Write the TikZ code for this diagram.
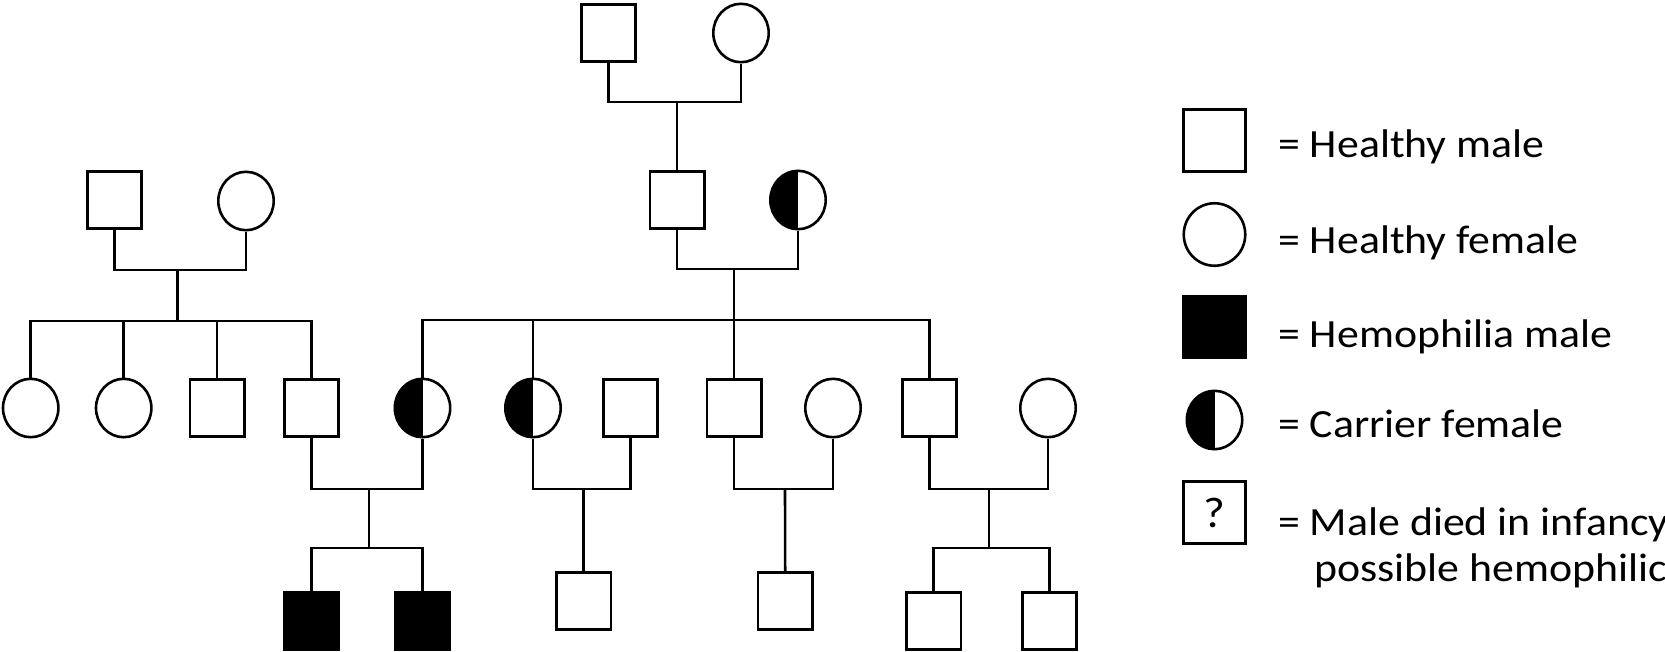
\documentclass[tikz,border=0pt]{standalone}
\usepackage{fontspec}
\setmainfont[FakeStretch=1.095]{Carlito}
\usetikzlibrary{shapes.geometric}
\begin{document}
\begin{tikzpicture}[x=1pt,y=-1pt,
  lw/.style={line width=2.6pt},
  male/.style={draw, lw, rectangle, minimum width=54.4pt, minimum height=57.4pt, inner sep=0pt, fill=white},
  female/.style={draw, lw, ellipse, minimum width=55.4pt, minimum height=58.4pt, inner sep=0pt, fill=white},
  affected/.style={male, fill=black},
  carrier/.style={female, path picture={\fill[black] (path picture bounding box.south west) rectangle (path picture bounding box.north);}},
  lmale/.style={male, minimum width=62pt, minimum height=62pt},
  lfemale/.style={female, minimum width=61.5pt, minimum height=62.5pt},
  link/.style={lw},
  lab/.style={anchor=base west, inner sep=0pt, font=\fontsize{40}{48}\selectfont}
]
\useasboundingbox (0,0) rectangle (1665,651);

% Generation I
\node[male] (gm1) at (608.5,33) {};
\node[female] (gf1) at (741,33) {};
\coordinate (c1) at (677,102);

% Generation II
\node[male] (lm) at (114.5,200) {};
\node[female] (lf) at (246,201) {};
\coordinate (c2) at (177.5,270);
\coordinate (s2) at (177.5,321);

\node[male] (rm) at (677,200) {};
\node[carrier] (rf) at (798,200) {};
\coordinate (c3) at (734,269);
\coordinate (s3) at (734,320);

% Generation III
\node[female] (a1) at (30.7,408) {};
\node[female] (a2) at (123.7,408) {};
\node[male] (a3) at (217,408) {};
\node[male] (a4) at (311.5,408) {};

\node[carrier] (b1) at (422.5,408) {};
\node[carrier] (b2) at (533,408) {};
\node[male] (b3) at (734,408) {};
\node[male] (b4) at (929.5,408) {};

\node[male] (p2) at (630.5,408) {};
\node[female] (p3) at (833,408) {};
\node[female] (p4) at (1048,408) {};

\coordinate (d1) at (369,489);
\coordinate (e1) at (369,548);
\coordinate (d2) at (583.6,489);
\coordinate (d3) at (785,489);
\coordinate (d4) at (989,489);
\coordinate (e4) at (989,548);

% Generation IV
\node[affected] (g1) at (311.5,620.5) {};
\node[affected] (g2) at (422.5,620.5) {};
\node[male] (g3) at (583.6,601) {};
\node[male] (g4) at (785.2,601) {};
\node[male] (g5) at (933.6,621) {};
\node[male] (g6) at (1049.5,621) {};

% Connectors
\draw[link] (gm1.south) |- (c1) -| (gf1.south);
\draw[link] (c1) -- (rm.north);

\draw[link] (lm.south) |- (c2) -| (lf.south);
\draw[link] (c2) -- (s2);
\draw[link] (a1.north) |- (s2) -| (a4.north);
\draw[link] (a2.north) -- (a2.north |- s2);
\draw[link] (a3.north) -- (a3.north |- s2);

\draw[link] (rm.south) |- (c3) -| (rf.south);
\draw[link] (c3) -- (b3.north);
\draw[link] (b1.north) |- (s3) -| (b4.north);
\draw[link] (b2.north) -- (b2.north |- s3);

\draw[link] (a4.south) |- (d1) -| (b1.south);
\draw[link] (d1) -- (e1);
\draw[link] (g1.north) |- (e1) -| (g2.north);

\draw[link] (b2.south) |- (d2) -| (p2.south);
\draw[link] (d2) -- (g3.north);

\draw[link] (b3.south) |- (d3) -| (p3.south);
\draw[link] (d3) -- (g4.north);

\draw[link] (b4.south) |- (d4) -| (p4.south);
\draw[link] (d4) -- (e4);
\draw[link] (g5.north) |- (e4) -| (g6.north);

% Legend
\node[lmale] (k1) at (1214.5,140.5) {};
\node[lfemale] (k2) at (1214.5,234.5) {};
\node[lmale, fill=black] (k3) at (1214.5,327) {};
\node[lfemale, carrier] (k4) at (1214.5,420) {};
\node[lmale, font=\fontsize{43}{50}\selectfont] (k5) at (1214.5,512.5) {?};

\node[lab] (t1) at (1278,157) {= Healthy male};
\node[lab] (t2) at (1278,253) {= Healthy female};
\node[lab] (t3) at (1278,347) {= Hemophilia male};
\node[lab] (t4) at (1278,437) {= Carrier female};
\node[lab] (t5) at (1278,535) {= Male died in infancy};
\node[lab] (t6) at (1314,581) {possible hemophilic};
\end{tikzpicture}
\end{document}
